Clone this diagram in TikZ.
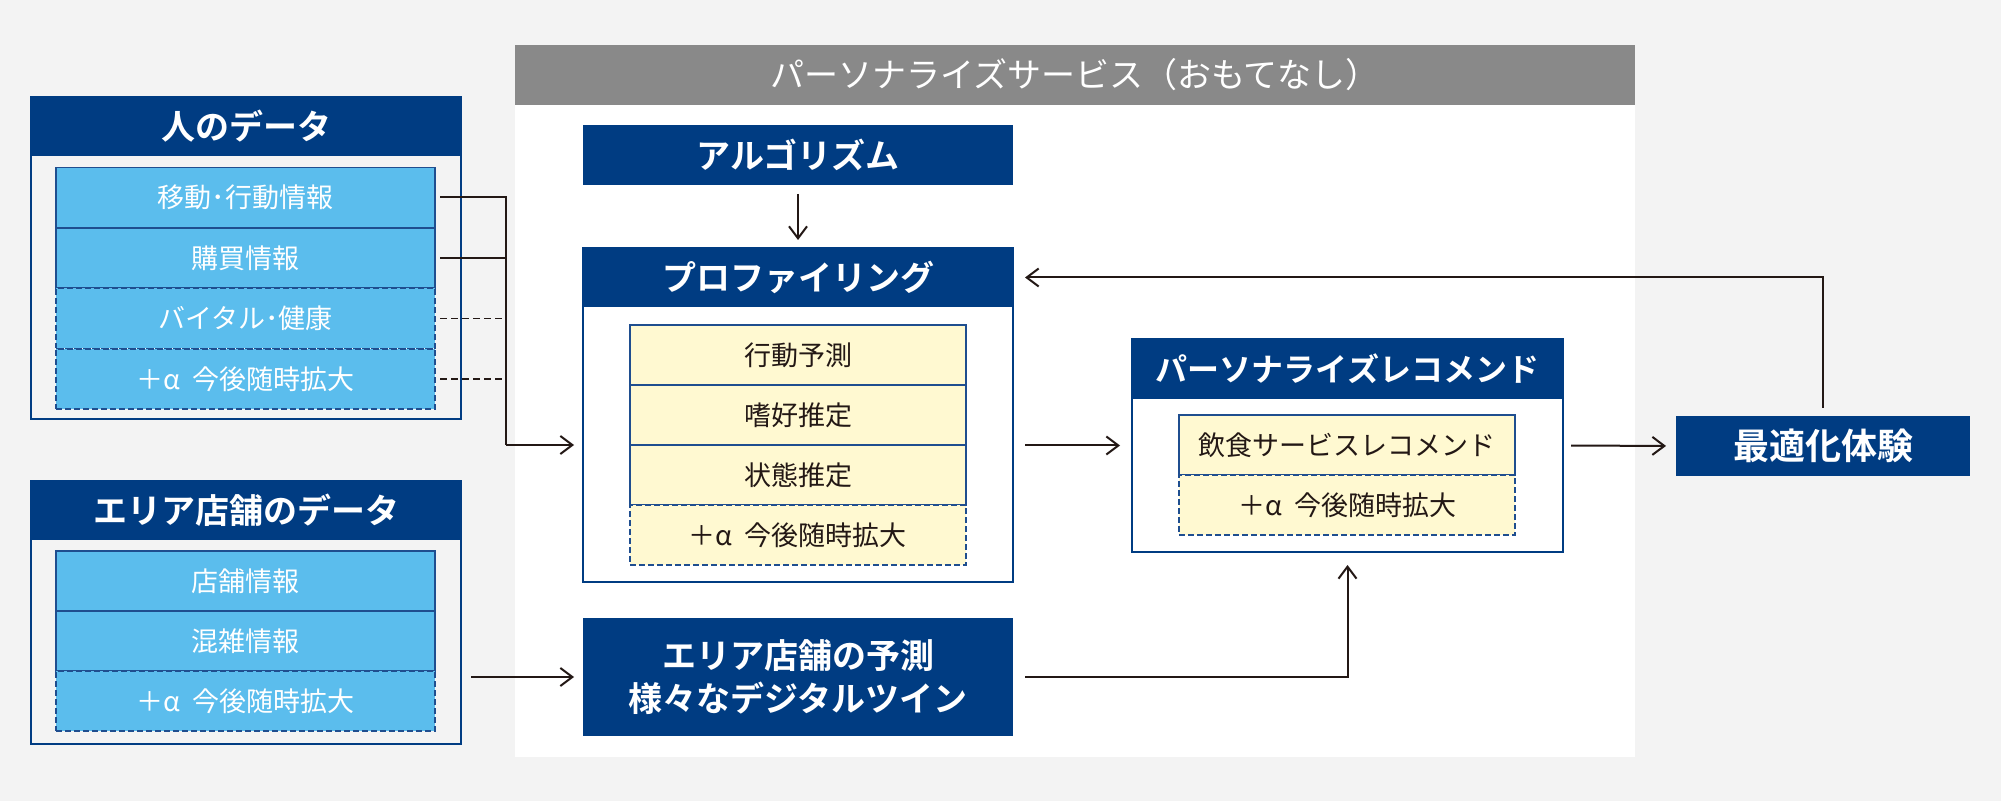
\documentclass[tikz,border=0pt]{standalone}
\usepackage{fontspec}
\setmainfont{Noto Sans CJK JP}[BoldFont={Noto Sans CJK JP Bold}]
\usetikzlibrary{arrows.meta}
\definecolor{navy}{HTML}{003C82}
\definecolor{sky}{HTML}{5BBDED}
\definecolor{cream}{HTML}{FFF9D1}
\definecolor{rule}{HTML}{1F4E8F}
\definecolor{ink}{HTML}{231815}
\definecolor{paper}{HTML}{F3F3F3}
\definecolor{banner}{HTML}{898989}
\newcommand{\plusalpha}{＋α\hspace{0.45em}今後随時拡大}
\tikzstyle{title}=[fill=navy, text=white, inner sep=0pt, outer sep=0pt, font=\bfseries\fontsize{17pt}{21.5pt}\selectfont, align=center]
\tikzstyle{frame}=[draw=navy, line width=1.3pt, inner sep=0pt, outer sep=0pt]
\tikzstyle{datum}=[draw=rule, line width=0.7pt, fill=sky, text=white, minimum width=189.5pt, minimum height=30pt, inner sep=0pt, outer sep=0pt, font=\fontsize{13.5pt}{16pt}\selectfont]
\tikzstyle{open datum}=[datum, dash pattern=on 3pt off 1.5pt]
\tikzstyle{estimate}=[datum, fill=cream, text=ink, minimum width=168pt]
\tikzstyle{open estimate}=[estimate, dash pattern=on 3pt off 1.5pt]
\tikzstyle{link}=[draw=ink, line width=1pt]
\tikzstyle{arrow}=[link, -{Straight Barb[length=6pt, width=9pt, line width=1pt]}]
\tikzstyle{faint link}=[link, line width=0.7pt, dash pattern=on 3.5pt off 2pt]

\begin{document}
\begin{tikzpicture}[x=0.5pt, y=-0.5pt]
      \fill[paper] (0, 0) rectangle (2001, 801);
      \useasboundingbox (0, 0) rectangle (2001, 801);
      % service panel
      \node[fill=white, minimum width=560pt, minimum height=356pt, inner sep=0pt] (panel) at (1075, 401) {};
      \node[fill=banner, text=white, minimum width=560pt, minimum height=30pt, inner sep=0pt, font=\fontsize{17pt}{20pt}\selectfont] (service) at (1075, 75) {パーソナライズサービス（おもてなし）};

      % person data
      \node[frame, minimum width=215pt, minimum height=161pt] (person) at (246, 258) {};
      \node[title, minimum width=215pt, minimum height=29.5pt] (ptitle) at (246, 126.5) {人のデータ};
      \node[datum] (pd1) at (245.5, 197.5) {移動･行動情報};
      \node[datum] (pd2) at (245.5, 258) {購買情報};
      \node[open datum] (pd3) at (245.5, 318.5) {バイタル･健康};
      \node[open datum] (pd4) at (245.5, 379) {\plusalpha};

      % area data
      \node[frame, minimum width=215pt, minimum height=131.5pt] (area) at (246, 612.5) {};
      \node[title, minimum width=215pt, minimum height=29.5pt] (atitle) at (246, 510.5) {エリア店舗のデータ};
      \node[datum] (ad1) at (245.5, 581) {店舗情報};
      \node[datum] (ad2) at (245.5, 641) {混雑情報};
      \node[open datum] (ad3) at (245.5, 701) {\plusalpha};

      % algorithm and profiling
      \node[title, minimum width=215pt, minimum height=30pt] (algo) at (798, 155) {アルゴリズム};
      \node[frame, fill=white, minimum width=215pt, minimum height=167pt] (prof) at (798, 415) {};
      \node[title, minimum width=215pt, minimum height=29.5pt] (proftitle) at (798, 277.5) {プロファイリング};
      \node[estimate] (pe1) at (798, 355) {行動予測};
      \node[estimate] (pe2) at (798, 415) {嗜好推定};
      \node[estimate] (pe3) at (798, 475) {状態推定};
      \node[open estimate] (pe4) at (798, 535) {\plusalpha};

      % area prediction
      \node[title, minimum width=215pt, minimum height=59pt] (pred) at (798, 677) {エリア店舗の予測\\様々なデジタルツイン};

      % recommendation
      \node[frame, fill=white, minimum width=215.5pt, minimum height=106.5pt] (rec) at (1347.5, 445.5) {};
      \node[title, minimum width=215.5pt, minimum height=30pt, font=\bfseries\fontsize{16pt}{20pt}\selectfont] (rectitle) at (1347.5, 369) {パーソナライズレコメンド};
      \node[estimate] (re1) at (1347, 445) {飲食サービスレコメンド};
      \node[open estimate] (re2) at (1347, 505) {\plusalpha};

      % experience
      \node[title, minimum width=147pt, minimum height=30pt, font=\bfseries\fontsize{18pt}{21pt}\selectfont] (opt) at (1823, 446) {最適化体験};

      % connectors
      \coordinate (join) at (506, 445);
      \draw[link, shorten <=2.5pt] (pd1.east) -| (join);
      \draw[link, shorten <=2.5pt] (pd2.east) -| (join);
      \draw[faint link, shorten <=2.5pt, shorten >=1.5pt] (pd3.east) -- (pd3.east -| join);
      \draw[faint link, shorten <=2.5pt, shorten >=1.5pt] (pd4.east) -- (pd4.east -| join);
      \draw[arrow, shorten >=4.5pt] (join) -- (join -| prof.west);
      \draw[arrow, shorten <=5pt, shorten >=4.5pt] (pred.west -| area.east) -- (pred.west);
      \draw[arrow, shorten <=4.5pt, shorten >=4pt] (algo.south) -- (proftitle.north);
      \draw[arrow, shorten <=6pt, shorten >=6pt] (rec.west -| prof.east) -- (rec.west);
      \draw[arrow, shorten <=4pt, shorten >=5pt] (rec.east) -- (opt.west);
      \draw[arrow, shorten <=4pt, shorten >=6pt] (opt.north) |- (proftitle.east);
      \draw[arrow, shorten <=6pt, shorten >=6.5pt] (pred.east) -| (rec.south);
    \end{tikzpicture}
\end{document}
